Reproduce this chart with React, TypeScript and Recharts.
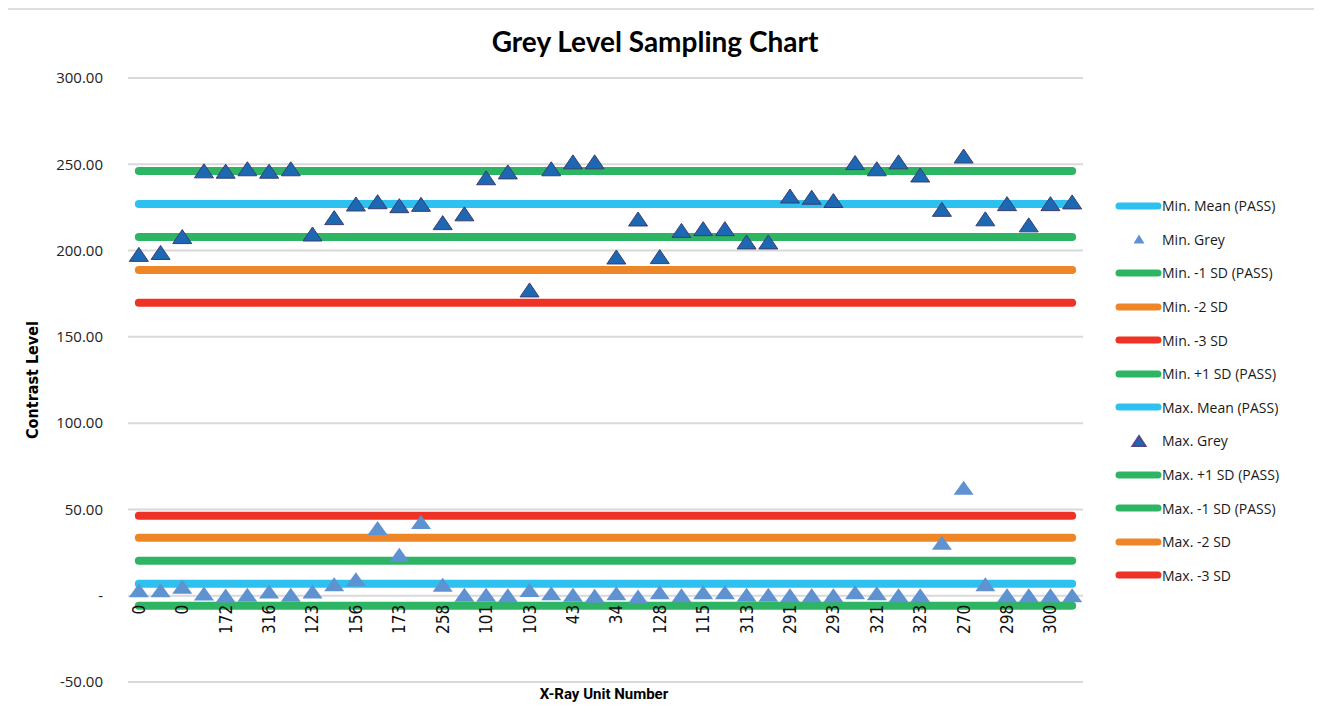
import React from 'react';
import { ComposedChart, Line, XAxis, YAxis, CartesianGrid, Legend } from 'recharts';

// ---------- data ----------
const unitLabels = ['0', '', '0', '', '172', '', '316', '', '123', '', '156', '', '173', '', '258', '', '101', '', '103', '', '43', '', '34', '', '128', '', '115', '', '313', '', '291', '', '293', '', '321', '', '323', '', '270', '', '298', '', '300', ''];

const maxGrey = [197.8, 198.9, 208.1, 246.2, 246.0, 247.4, 246.0, 247.4, 209.6, 219.1, 227.0, 228.3, 226.0, 226.8, 216.2, 221.3, 242.2, 245.6, 177.2, 247.4, 251.4, 251.4, 196.3, 218.3, 196.5, 211.7, 212.7, 212.7, 205.0, 205.0, 231.6, 230.9, 229.0, 251.0, 247.4, 251.4, 243.8, 223.9, 254.8, 218.4, 227.2, 214.9, 227.2, 228.2];

const minGrey = [3.2, 3.2, 5.2, 1.3, 0.1, 0.5, 2.4, 0.5, 2.4, 6.6, 9.5, 39.2, 23.7, 42.7, 6.3, 0.5, 0.5, 0.3, 3.3, 1.4, 0.5, 0.0, 1.5, -0.4, 2.0, 0.3, 2.0, 2.0, 0.5, 0.5, 0.3, 0.3, 0.3, 2.0, 1.4, 0.3, 0.3, 30.7, 62.6, 6.7, 0.3, 0.3, 0.3, 0.3];

// control limits (constant per chart)
const minMean = 227.0;
const minMinus1 = 207.9;
const minMinus2 = 188.8;
const minMinus3 = 169.7;
const minPlus1 = 246.1;
const maxMean = 6.9;
const maxPlus1 = -5.8;
const maxMinus1 = 20.3;
const maxMinus2 = 33.6;
const maxMinus3 = 46.3;

const yTicks = [-50, 0, 50, 100, 150, 200, 250, 300];

// ---------- styles ----------
const GREEN = '#2DB564';
const BLUE = '#2EC0EE';
const ORANGE = '#EE8628';
const RED = '#EE3326';
const MAX_FILL = '#1C68B2';
const MAX_STROKE = '#3E3C6E';
const MIN_FILL = '#5E92D0';

const Y_MIN = -50;
const Y_MAX = 300;
const PLOT_H = 604;
const PLOT_W = 955;
const ZERO_OFFSET = (PLOT_H * (0 - Y_MIN)) / (Y_MAX - Y_MIN);
const HALF_BAND = PLOT_W / unitLabels.length / 2;

const data = unitLabels.map((u, i) => ({
  unit: u,
  maxGrey: maxGrey[i],
  minGrey: minGrey[i],
  minMean,
  minMinus1,
  minMinus2,
  minMinus3,
  minPlus1,
  maxMean,
  maxPlus1,
  maxMinus1,
  maxMinus2,
  maxMinus3,
}));

type Item = { key: string; name: string; kind: 'line' | 'min' | 'max'; color: string };
const series: Item[] = [
  { key: 'minMean', name: 'Min. Mean (PASS)', kind: 'line', color: BLUE },
  { key: 'minGrey', name: 'Min. Grey', kind: 'min', color: MIN_FILL },
  { key: 'minMinus1', name: 'Min. -1 SD (PASS)', kind: 'line', color: GREEN },
  { key: 'minMinus2', name: 'Min. -2 SD', kind: 'line', color: ORANGE },
  { key: 'minMinus3', name: 'Min. -3 SD', kind: 'line', color: RED },
  { key: 'minPlus1', name: 'Min. +1 SD (PASS)', kind: 'line', color: GREEN },
  { key: 'maxMean', name: 'Max. Mean (PASS)', kind: 'line', color: BLUE },
  { key: 'maxGrey', name: 'Max. Grey', kind: 'max', color: MAX_FILL },
  { key: 'maxPlus1', name: 'Max. +1 SD (PASS)', kind: 'line', color: GREEN },
  { key: 'maxMinus1', name: 'Max. -1 SD (PASS)', kind: 'line', color: GREEN },
  { key: 'maxMinus2', name: 'Max. -2 SD', kind: 'line', color: ORANGE },
  { key: 'maxMinus3', name: 'Max. -3 SD', kind: 'line', color: RED },
];

const tri = (cx: number, cy: number, w: number, h: number) =>
  `M${cx},${cy - h / 2} L${cx + w / 2},${cy + h / 2} L${cx - w / 2},${cy + h / 2} Z`;

const MaxDot = (p: any) => {
  if (p.cx == null || p.cy == null) return null;
  return <path key={`mx${p.index}`} d={tri(p.cx, p.cy, 19, 14)} fill={MAX_FILL} stroke={MAX_STROKE} strokeWidth={1} />;
};
const MinDot = (p: any) => {
  if (p.cx == null || p.cy == null) return null;
  return <path key={`mn${p.index}`} d={tri(p.cx, p.cy, 20, 14)} fill={MIN_FILL} stroke="none" />;
};

const XTick = (p: any) => {
  const { x, y, payload } = p;
  const ty = y - ZERO_OFFSET + 9;
  return (
    <text
      x={x}
      y={ty}
      transform={`rotate(-90 ${x} ${ty})`}
      textAnchor="end"
      dominantBaseline="central"
      fontFamily="'Liberation Sans Narrow', 'DejaVu Sans Condensed', sans-serif"
      fontSize={17}
      fill="#111"
    >
      {payload.value}
    </text>
  );
};

const LegendContent = () => (
  <div style={{ fontFamily: "'Open Sans', 'Noto Sans', sans-serif", fontSize: 14, color: '#1a1a1a' }}>
    {series.map((s) => (
      <div key={s.key} style={{ height: 33.6, display: 'flex', alignItems: 'center' }}>
        <svg width={47} height={14} style={{ flex: 'none' }}>
          {s.kind === 'line' && <line x1={4} y1={7} x2={43} y2={7} stroke={s.color} strokeWidth={7} strokeLinecap="round" />}
          {s.kind === 'min' && <path d={tri(24, 7, 11, 9)} fill={MIN_FILL} />}
          {s.kind === 'max' && <path d={tri(24, 7, 13, 10)} fill={MAX_FILL} stroke="#54468A" strokeWidth={2} />}
        </svg>
        <span style={{ whiteSpace: 'nowrap' }}>{s.name}</span>
      </div>
    ))}
  </div>
);

export default function App() {
  const lineSeries = series.filter((s) => s.kind === 'line');
  return (
    <div style={{ position: 'relative', width: 1314, height: 715, background: '#fff', borderTop: '2px solid #dedede', borderRight: '2px solid #dedede', boxSizing: 'border-box' }}>
      <div style={{ position: 'absolute', left: 347, width: 600, top: 14, textAlign: 'center', fontFamily: 'Lato, sans-serif', fontWeight: 700, fontSize: 28, lineHeight: '34px', color: '#000' }}>
        Grey Level Sampling Chart
      </div>
      <div style={{ position: 'absolute', left: -75, top: 360, width: 200, height: 20, lineHeight: '20px', textAlign: 'center', transform: 'rotate(-90deg)', fontFamily: "'Liberation Sans Narrow', 'DejaVu Sans Condensed', sans-serif", fontWeight: 700, fontSize: 16, color: '#000' }}>
        Contrast Level
      </div>
      <div style={{ position: 'absolute', left: 446, top: 674, width: 300, lineHeight: '20px', textAlign: 'center', fontFamily: 'Roboto, sans-serif', fontWeight: 700, fontSize: 15, color: '#000' }}>
        X-Ray Unit Number
      </div>
      <div style={{ position: 'absolute', left: 0, top: -2 }}>
        <ComposedChart width={1314} height={715} data={data} margin={{ top: 70, right: 239, bottom: 40, left: 0 }}>
          <CartesianGrid horizontal vertical={false} stroke="#d9d9d9" strokeWidth={2} />
          <XAxis dataKey="unit" interval={1} height={1} tickLine={false} axisLine={false} tickSize={0} tickMargin={0} padding={{ left: HALF_BAND, right: HALF_BAND }} tick={<XTick />} />
          <YAxis
            width={120}
            domain={[Y_MIN, Y_MAX]}
            ticks={yTicks}
            tickLine={false}
            axisLine={false}
            tickSize={0}
            tickMargin={25}
            tickFormatter={(v: number) => (v === 0 ? '-' : v.toFixed(2))}
            tick={{ fill: '#222', fontSize: 15, fontFamily: "'Open Sans', 'Noto Sans', sans-serif" }}
          />
          <Legend layout="vertical" align="center" verticalAlign="middle" wrapperStyle={{ left: 1107, top: 181, width: 207 }} content={<LegendContent />} />
          {lineSeries.map((s) => (
            <Line key={s.key} dataKey={s.key} name={s.name} stroke={s.color} strokeWidth={8} strokeLinecap="round" dot={false} activeDot={false} isAnimationActive={false} />
          ))}
          <Line dataKey="maxGrey" name="Max. Grey" stroke="none" strokeWidth={0} dot={MaxDot} activeDot={false} isAnimationActive={false} />
          <Line dataKey="minGrey" name="Min. Grey" stroke="none" strokeWidth={0} dot={MinDot} activeDot={false} isAnimationActive={false} />
        </ComposedChart>
      </div>
    </div>
  );
}
